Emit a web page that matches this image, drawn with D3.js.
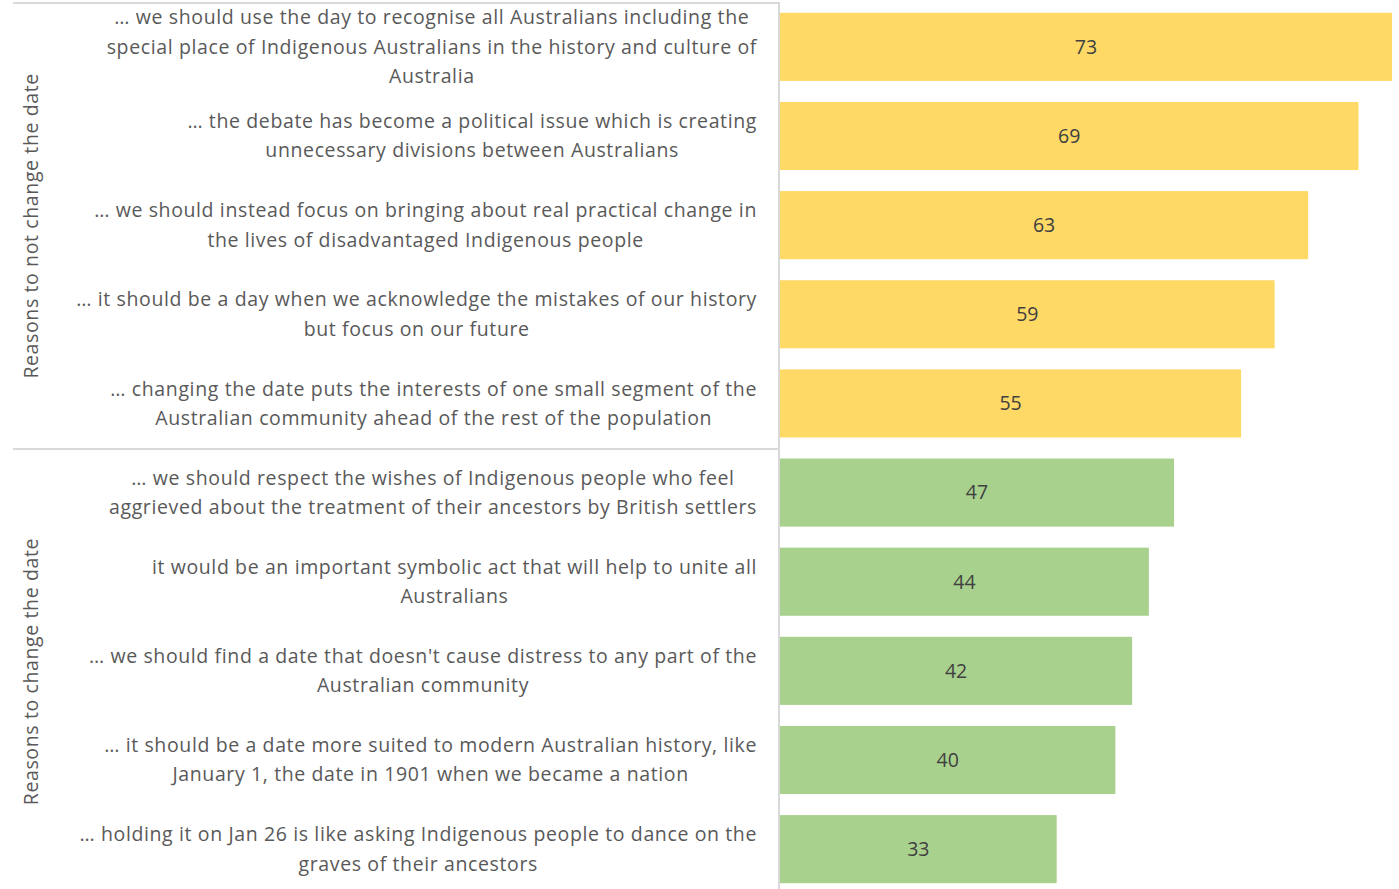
<!DOCTYPE html>
<html lang="en">
<head>
<meta charset="utf-8">
<title>Australia Day reasons</title>
<script src="https://cdn.jsdelivr.net/npm/d3@7/dist/d3.min.js"></script>
<style>
  body { margin: 0; background: #fff; }
  svg { display: block; }
  .lbl text { font-family: "Open Sans", sans-serif; font-size: 19.5px; letter-spacing: 0.62px; fill: #595959; }
  .val { font-family: "Open Sans", sans-serif; font-size: 19.5px; fill: #404040; }
  .grp { font-family: "Open Sans", sans-serif; font-size: 19.5px; letter-spacing: 0.62px; fill: #595959; }
  .rule { stroke: #d9d9d9; stroke-width: 2; shape-rendering: crispEdges; }
</style>
</head>
<body>
<script>
  var w = 1399, h = 889;

  // data, top to bottom
  var labels = [
    ["… we should use the day to recognise all Australians including the", "special place of Indigenous Australians in the history and culture of", "Australia"],
    ["… the debate has become a political issue which is creating", "unnecessary divisions between Australians"],
    ["… we should instead focus on bringing about real practical change in", "the lives of disadvantaged Indigenous people"],
    ["… it should be a day when we acknowledge the mistakes of our history", "but focus on our future"],
    ["… changing the date puts the interests of one small segment of the", "Australian community ahead of the rest of the population"],
    ["… we should respect the wishes of Indigenous people who feel", "aggrieved about the treatment of their ancestors by British settlers"],
    ["it would be an important symbolic act that will help to unite all", "Australians"],
    ["… we should find a date that doesn't cause distress to any part of the", "Australian community"],
    ["… it should be a date more suited to modern Australian history, like", "January 1, the date in 1901 when we became a nation"],
    ["… holding it on Jan 26 is like asking Indigenous people to dance on the", "graves of their ancestors"]
  ];
  var values = [73, 69, 63, 59, 55, 47, 44, 42, 40, 33];
  var groups = ["Reasons to not change the date", "Reasons to change the date"];
  var groupOf = [0, 0, 0, 0, 0, 1, 1, 1, 1, 1];
  var groupColors = ["#FFD966", "#A9D18E"];

  var x0 = 780, labelRight = 757, leftEdge = 13;

  var svg = d3.select("body").append("svg").attr("width", w).attr("height", h);

  var y = d3.scaleBand()
    .domain(d3.range(values.length))
    .range([3, 893])
    .paddingInner(0.236)
    .paddingOuter(0.11);

  var x = d3.scaleLinear()
    .domain([0, d3.max(values)])
    .range([x0, 1392]);

  // bars
  svg.selectAll("rect.bar")
    .data(values)
    .enter()
    .append("rect")
    .attr("class", "bar")
    .attr("x", x(0))
    .attr("y", function(d, i) { return y(i); })
    .attr("width", function(d) { return x(d) - x(0); })
    .attr("height", y.bandwidth())
    .attr("fill", function(d, i) { return groupColors[groupOf[i]]; });

  // value labels
  svg.selectAll("text.val")
    .data(values)
    .enter()
    .append("text")
    .attr("class", "val")
    .attr("x", function(d) { return (x(0) + x(d)) / 2; })
    .attr("y", function(d, i) { return y(i) + y.bandwidth() / 2; })
    .attr("dy", "0.35em")
    .attr("text-anchor", "middle")
    .text(function(d) { return d; });

  // category labels: lines centred on each other, block right-aligned
  var lineH = 29.3;
  var lbl = svg.selectAll("g.lbl")
    .data(labels)
    .enter()
    .append("g")
    .attr("class", "lbl");

  lbl.each(function(lines, i) {
    var g = d3.select(this);
    var cy = y(i) + y.bandwidth() / 2;
    var ts = g.selectAll("text")
      .data(lines)
      .enter()
      .append("text")
      .attr("text-anchor", "middle")
      .attr("y", function(d, j) { return cy + (j - (lines.length - 1) / 2) * lineH; })
      .attr("dy", "0.35em")
      .text(function(d) { return d; });
    var maxW = 0;
    ts.each(function() { maxW = Math.max(maxW, this.getComputedTextLength()); });
    ts.attr("x", labelRight - maxW / 2);
  });

  // group rules
  var step = y.step();
  var groupStart = [0, 5], groupEnd = [5, 10];
  var bound = function(k) { return y.range()[0] + k * step; };

  svg.append("line").attr("class", "rule")
    .attr("x1", leftEdge).attr("x2", x0 - 1)
    .attr("y1", 3).attr("y2", 3);
  svg.append("line").attr("class", "rule")
    .attr("x1", leftEdge).attr("x2", x0 - 1)
    .attr("y1", Math.round(bound(5))).attr("y2", Math.round(bound(5)));
  svg.append("line").attr("class", "rule")
    .attr("x1", x0 - 1).attr("x2", x0 - 1)
    .attr("y1", 2).attr("y2", h);

  // group titles (rotated)
  svg.selectAll("text.grp")
    .data(groups)
    .enter()
    .append("text")
    .attr("class", "grp")
    .attr("text-anchor", "middle")
    .attr("transform", function(d, k) {
      var cy = (bound(groupStart[k]) + bound(groupEnd[k])) / 2;
      return "translate(31," + cy + ") rotate(-90)";
    })
    .attr("dy", "0.35em")
    .text(function(d) { return d; });
</script>
</body>
</html>
